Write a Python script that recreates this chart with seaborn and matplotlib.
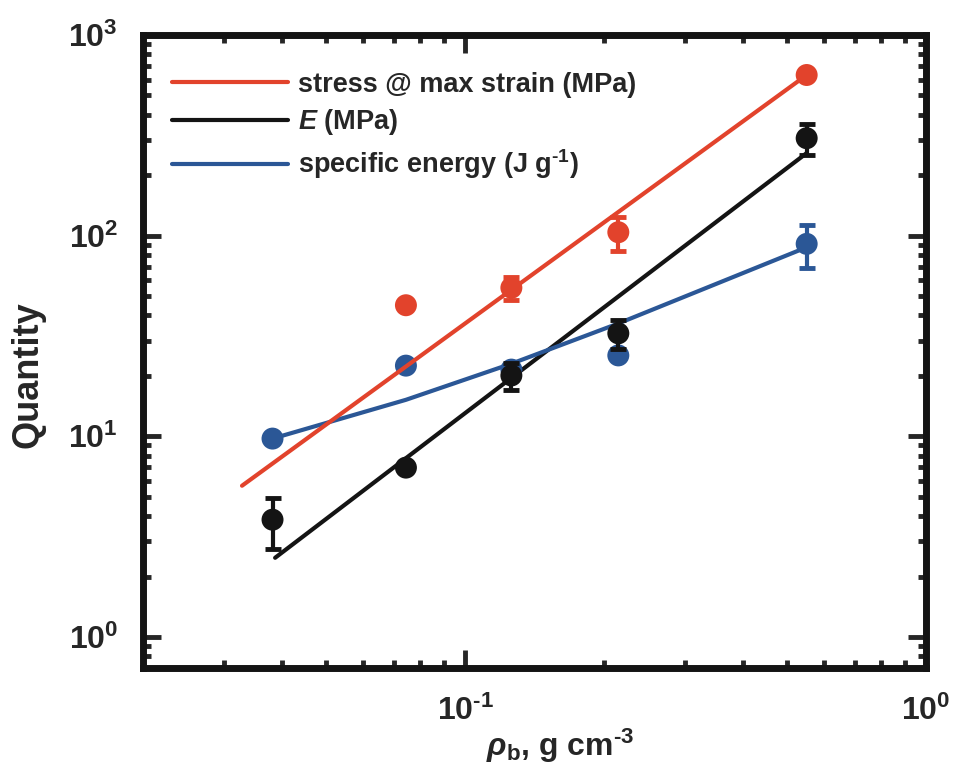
import numpy as np
import pandas as pd
import matplotlib
matplotlib.use("Agg")
import matplotlib.pyplot as plt
import seaborn as sns

# ---- data ----
density = [0.0382, 0.0744, 0.126, 0.215, 0.551]

stress_x = [0.0744, 0.126, 0.215, 0.551]
stress_y = [45.0, 55.0, 104.0, 632.0]
stress_err = [0.0, 7.0, 20.0, 0.0]

modulus_y = [3.84, 6.98, 20.1, 32.6, 306.0]
modulus_err = [1.1, 0.0, 3.0, 5.5, 55.0]

energy_y = [9.74, 22.5, 21.5, 25.3, 91.0]
energy_err = [0.0, 0.0, 0.0, 0.0, 22.0]

# fitted lines
stress_fit_x = [0.0328, 0.551]
stress_fit_y = [5.67, 632.0]
modulus_fit_x = [0.0387, 0.551]
modulus_fit_y = [2.48, 258.0]
energy_fit_x = [0.0382, 0.0744, 0.126, 0.215, 0.551]
energy_fit_y = [9.74, 15.2, 23.0, 36.5, 87.5]

HY = "\u2010"
labels = ["stress @ max strain (MPa)", "$\\mathit{E}$ (MPa)",
          "specific energy (J g$^{" + HY + "1}$)"]
x_ticks = [0.1, 1.0]
x_ticklabels = ["$10^{" + HY + "1}$", "$10^{0}$"]
y_ticks = [1, 10, 100, 1000]
y_ticklabels = ["$10^{0}$", "$10^{1}$", "$10^{2}$", "$10^{3}$"]
x_label = "$\\mathit{\\rho}_{\\mathrm{b}}$, g cm$^{" + HY + "3}$"
y_label = "Quantity"

RED = "#e2432c"
BLACK = "#141414"
BLUE = "#2b5796"

sns.set_theme(style="ticks")
plt.rcParams["font.family"] = ["Liberation Sans", "DejaVu Sans"]
plt.rcParams["font.weight"] = "bold"
plt.rcParams["mathtext.fontset"] = "custom"
plt.rcParams["mathtext.rm"] = "Liberation Sans:bold"
plt.rcParams["mathtext.bf"] = "Liberation Sans:bold"
plt.rcParams["mathtext.it"] = "Liberation Sans:italic:bold"
plt.rcParams["mathtext.default"] = "rm"

fig = plt.figure(figsize=(9.54, 7.68), dpi=100)
ax = fig.add_axes([0.1499, 0.1302, 0.8207, 0.8242])
ax.set_xscale("log")
ax.set_yscale("log")

fits = [
    (stress_fit_x, stress_fit_y, RED, 4),
    (modulus_fit_x, modulus_fit_y, BLACK, 2),
    (energy_fit_x, energy_fit_y, BLUE, 2),
]
handles = []
for fx, fy, col, z in fits:
    df = pd.DataFrame({"x": fx, "y": fy})
    sns.lineplot(data=df, x="x", y="y", ax=ax, color=col, lw=3.0,
                 sort=False, estimator=None, legend=False, zorder=z)
    handles.append(ax.lines[-1])

series = [
    (density, energy_y, energy_err, BLUE),
    (stress_x, stress_y, stress_err, RED),
    (density, modulus_y, modulus_err, BLACK),
]
for sx, sy, se, col in series:
    df = pd.DataFrame({"x": sx, "y": sy})
    sns.scatterplot(data=df, x="x", y="y", ax=ax, color=col, s=250,
                    edgecolor="none", legend=False, zorder=3)
    ax.errorbar(sx, sy, yerr=se, fmt="none", ecolor=col, elinewidth=3,
                capsize=6, capthick=3.5, zorder=3)

ax.set_xlim(0.02, 1.0)
ax.set_ylim(0.7, 1000)
ax.set_xticks(x_ticks)
ax.set_xticklabels(x_ticklabels)
ax.set_yticks(y_ticks)
ax.set_yticklabels(y_ticklabels)

ax.tick_params(which="major", direction="in", length=13, width=3.5,
               top=True, right=True, labelsize=23)
ax.tick_params(axis="x", which="major", pad=20)
ax.tick_params(axis="y", which="major", pad=18)
ax.tick_params(which="minor", direction="in", length=6, width=3.5,
               top=True, right=True)
for sp in ax.spines.values():
    sp.set_linewidth(5)
    sp.set_color(BLACK)

ax.set_xlabel(x_label, fontsize=23, fontweight="bold")
ax.set_ylabel(y_label, fontsize=26, fontweight="bold")
ax.xaxis.set_label_coords(0.533, -0.092)
ax.yaxis.set_label_coords(-0.125, 0.463)

leg = ax.legend(handles=handles, labels=labels, loc="upper left",
                bbox_to_anchor=(0.037, 0.942), frameon=False, fontsize=19.5,
                handlelength=4.3, handletextpad=0.37, labelspacing=0.36,
                borderaxespad=0.0, borderpad=0.0)

fig.savefig("out.png", dpi=100)
